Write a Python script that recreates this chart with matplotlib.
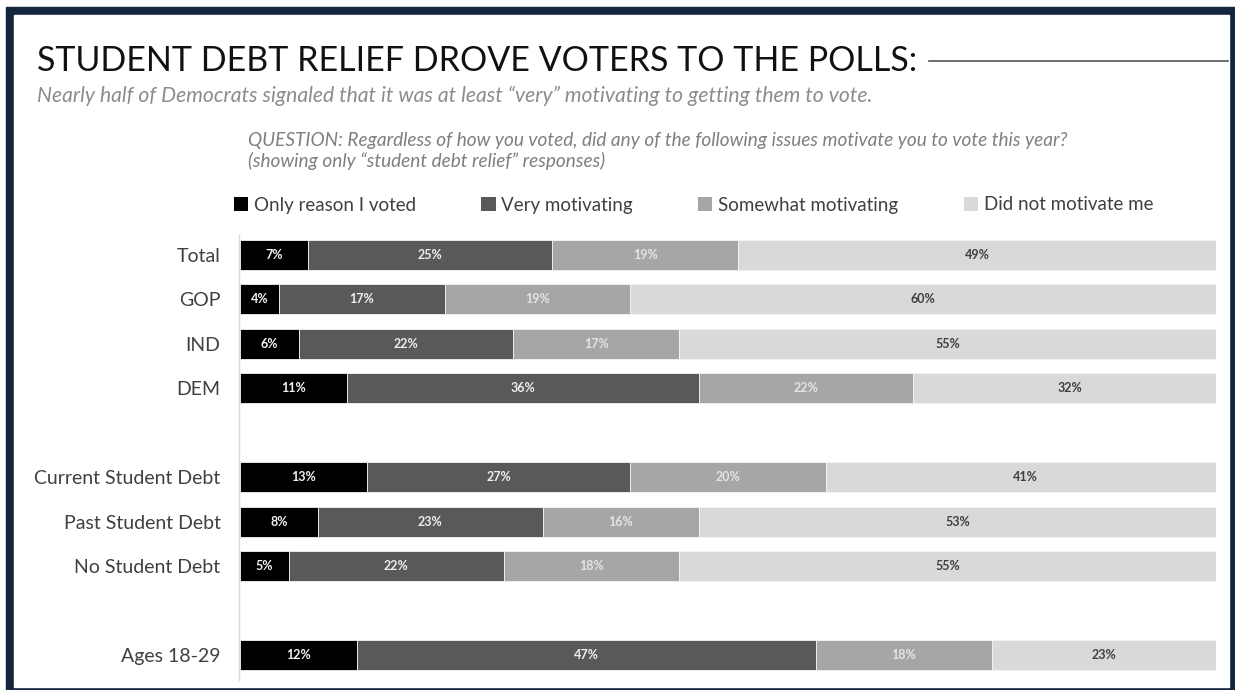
import numpy as np
import matplotlib
matplotlib.use("Agg")
from matplotlib import pyplot as plt
from matplotlib.patches import Rectangle, Patch
from matplotlib.lines import Line2D

plt.rcParams['font.family'] = ['Lato', 'DejaVu Sans']

groups = ["Total", "GOP", "IND", "DEM",
          "Current Student Debt", "Past Student Debt", "No Student Debt",
          "Ages 18-29"]
# row slots, with blank rows between the blocks
rows = [0, 1, 2, 3, 5, 6, 7, 9]

responses = ["Only reason I voted", "Very motivating",
             "Somewhat motivating", "Did not motivate me"]
only_reason = [7, 4, 6, 11, 13, 8, 5, 12]
very = [25, 17, 22, 36, 27, 23, 22, 47]
somewhat = [19, 19, 17, 22, 20, 16, 18, 18]
not_at_all = [49, 60, 55, 32, 41, 53, 55, 23]

colors = ["#000000", "#595959", "#a6a6a6", "#d9d9d9"]
text_colors = ["#f2f2f2", "#eeeeee", "#e4e4e4", "#404040"]

W, H = 1235, 690
fig = plt.figure(figsize=(W / 100, H / 100), dpi=100)

# navy frame around the slide
fig.patches.append(Rectangle((6 / W, 0), 1 - 6 / W, 1 - 7 / H,
                             transform=fig.transFigure, color="#14253e", zorder=-3))
fig.patches.append(Rectangle((14 / W, 3 / H), (1229 - 14) / W, (687 - 15) / H,
                             transform=fig.transFigure, color="white", zorder=-2))

ax = fig.add_axes([240 / W, 1 - 680 / H, 976 / W, (680 - 235) / H])
ax.set_zorder(2)
ax.set_facecolor("none")

series = [only_reason, very, somewhat, not_at_all]
left = np.zeros(len(groups))
for vals, c, tc in zip(series, colors, text_colors):
    vals = np.array(vals, dtype=float)
    ax.barh(rows, vals, left=left, height=0.675, color=c,
            edgecolor="#f4f4f4", linewidth=0.6)
    for r, l, v in zip(rows, left, vals):
        ax.text(l + v / 2, r, f"{int(v)}%", ha="center", va="center",
                fontsize=9, fontweight="bold", color=tc)
    left += vals

ax.set_xlim(0, 100)
ax.set_ylim(9.5625, -0.45)
ax.set_yticks(rows, groups)
ax.tick_params(axis="y", length=0, pad=13, labelsize=14, labelcolor="#404040")
ax.set_xticks([])
for s in ["top", "right", "bottom"]:
    ax.spines[s].set_visible(False)
ax.spines["left"].set_color("#d9d9d9")
ax.spines["left"].set_linewidth(1)
ax.spines["left"].set_position(("outward", 1))

# header
title = fig.text(37 / W, 1 - 71 / H, "STUDENT DEBT RELIEF DROVE VOTERS TO THE POLLS:",
                 fontsize=24.5, color="#111111", va="baseline")
fig.text(37 / W, 1 - 102 / H,
         "Nearly half of Democrats signaled that it was at least \u201cvery\u201d motivating to getting them to vote.",
         fontsize=15.2, style="italic", color="#8c8c8c", va="baseline")
fig.text(248 / W, 1 - 146 / H,
         "QUESTION: Regardless of how you voted, did any of the following issues motivate you to vote this year?",
         fontsize=13.7, style="italic", color="#7f7f7f", va="baseline")
fig.text(248 / W, 1 - 167 / H,
         "(showing only \u201cstudent debt relief\u201d responses)",
         fontsize=13.7, style="italic", color="#7f7f7f", va="baseline")

fig.canvas.draw()
bb = title.get_window_extent()
fig.add_artist(Line2D([(bb.x1 + 12) / W, 1228 / W], [1 - 61 / H, 1 - 61 / H],
                      transform=fig.transFigure, color="#555555", lw=1.2))

handles = [Patch(facecolor=c, edgecolor="none") for c in colors]
fig.legend(handles, responses, loc="center left",
           bbox_to_anchor=(234 / W, 1 - 205 / H), ncol=4, frameon=False,
           fontsize=13.5, labelcolor="#404040", handlelength=0.75,
           handleheight=0.75, handletextpad=0.3, columnspacing=3.5,
           borderpad=0, borderaxespad=0)

fig.savefig("out.png", dpi=100, facecolor="white")
